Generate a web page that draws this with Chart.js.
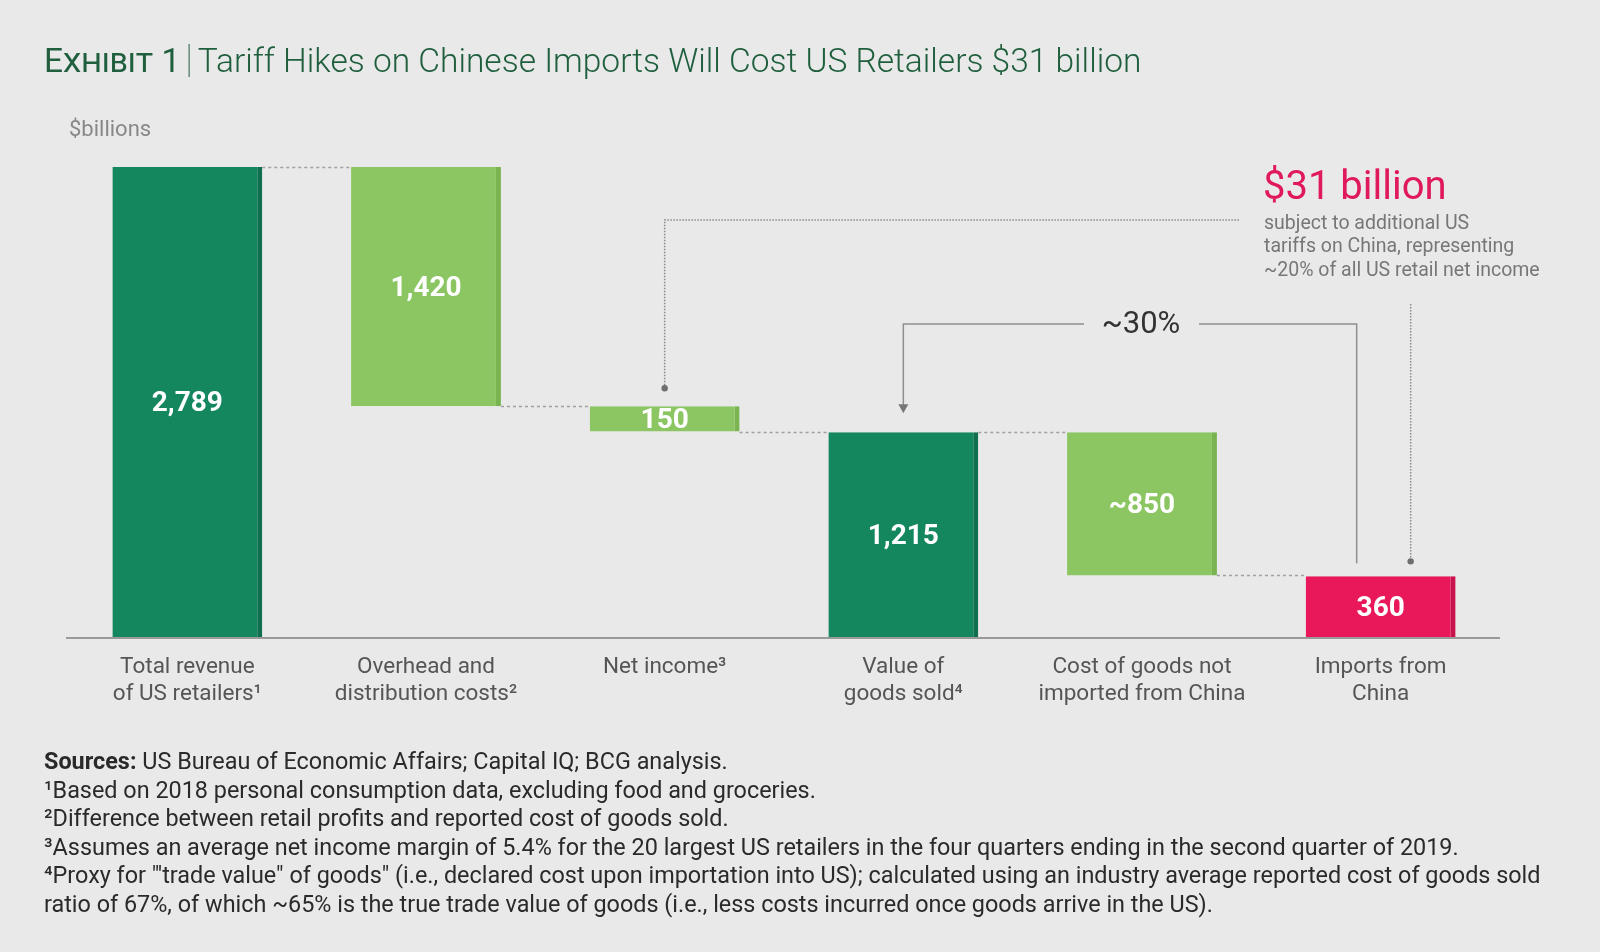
<!DOCTYPE html>
<html>
<head>
<meta charset="utf-8">
<script src="https://cdn.jsdelivr.net/npm/chart.js@4/dist/chart.umd.min.js"></script>
<style>
  html, body { margin: 0; padding: 0; background: #e9e9e9; }
  #wrap { position: relative; width: 1600px; height: 952px; font-family: Roboto, "Open Sans", sans-serif; }
  #chart { position: absolute; left: 0; top: 0; }
  #title { position: absolute; left: 44px; top: 38px; font-size: 33.5px; font-weight: 300; color: #1f5f3d; white-space: nowrap; line-height: 42px; }
  #title .ex { font-variant: small-caps; font-weight: 400; }
  #title .sep { font-weight: 100; margin: 0 5px; font-size: 38px; }
  #notes { position: absolute; left: 44px; top: 747px; font-size: 23.4px; line-height: 28.6px; color: #2a2a2a; white-space: nowrap; }
  #notes b { font-weight: 700; }
</style>
</head>
<body>
<div id="wrap">
  <canvas id="chart" width="1600" height="952"></canvas>
  <div id="title"><span class="ex">Exhibit 1</span><span class="sep">|</span>Tariff Hikes on Chinese Imports Will Cost US Retailers $31 billion</div>
  <div id="notes">
    <div><b>Sources:</b> US Bureau of Economic Affairs; Capital IQ; BCG analysis.</div>
    <div>¹Based on 2018 personal consumption data, excluding food and groceries.</div>
    <div>²Difference between retail profits and reported cost of goods sold.</div>
    <div>³Assumes an average net income margin of 5.4% for the 20 largest US retailers in the four quarters ending in the second quarter of 2019.</div>
    <div>⁴Proxy for "'trade value" of goods" (i.e., declared cost upon importation into US); calculated using an industry average reported cost of goods sold</div>
    <div>ratio of 67%, of which ~65% is the true trade value of goods (i.e., less costs incurred once goods arrive in the US).</div>
  </div>
</div>
<script>
// chart data
const categories = [
  ['Total revenue', 'of US retailers¹'],
  ['Overhead and', 'distribution costs²'],
  ['Net income³'],
  ['Value of', 'goods sold⁴'],
  ['Cost of goods not', 'imported from China'],
  ['Imports from', 'China']
];
const amounts = [2789, 1420, 150, 1215, 850, 360];
const barKinds = ['total', 'decrease', 'decrease', 'total', 'decrease', 'highlight'];
const valueLabels = ['2,789', '1,420', '150', '1,215', '~850', '360'];

const kindColors = {
  total: ['#14875f', '#0f6f4e'],
  decrease: ['#8bc662', '#79b451'],
  highlight: ['#e8185b', '#c8134d']
};

// build floating ranges for the waterfall
let level = 0;
const ranges = [];
const endLevels = [];
amounts.forEach((amt, i) => {
  if (barKinds[i] === 'decrease') {
    ranges.push([level - amt, level]);
    level = level - amt;
  } else {
    ranges.push([0, amt]);
    level = amt;
  }
  endLevels.push(level);
});

const dotted = (ctx) => { ctx.setLineDash([1.5, 1.5]); ctx.strokeStyle = '#8a8a8a'; ctx.lineWidth = 1.5; };
const dot = (ctx, x, y) => { ctx.beginPath(); ctx.setLineDash([]); ctx.fillStyle = '#6e6e6e'; ctx.arc(x, y, 3.2, 0, Math.PI * 2); ctx.fill(); };

const waterfallPlugin = {
  id: 'waterfall',
  beforeDatasetsDraw(chart) {
    const ctx = chart.ctx;
    const y = chart.scales.y;
    const bars = chart.getDatasetMeta(0).data;
    ctx.save();
    // connectors
    ctx.setLineDash([3, 3]);
    ctx.strokeStyle = '#a0a0a0';
    ctx.lineWidth = 1.5;
    for (let i = 0; i < bars.length - 1; i++) {
      const yy = Math.round(y.getPixelForValue(endLevels[i])) + 0.5;
      ctx.beginPath();
      ctx.moveTo(bars[i].x + bars[i].width / 2, yy);
      ctx.lineTo(bars[i + 1].x - bars[i + 1].width / 2, yy);
      ctx.stroke();
    }
    ctx.restore();
  },
  afterDatasetsDraw(chart) {
    const ctx = chart.ctx;
    const x = chart.scales.x, y = chart.scales.y;
    const area = chart.chartArea;
    const bars = chart.getDatasetMeta(0).data;
    ctx.save();

    // value labels
    ctx.fillStyle = '#ffffff';
    ctx.font = 'bold 28px Roboto, sans-serif';
    ctx.textAlign = 'center';
    ctx.textBaseline = 'middle';
    bars.forEach((b, i) => {
      ctx.fillText(valueLabels[i], b.x, (b.y + b.base) / 2 + 2);
    });

    // axis line
    ctx.strokeStyle = '#9a9a9a';
    ctx.lineWidth = 2;
    ctx.beginPath();
    ctx.moveTo(area.left - 2, area.bottom + 1);
    ctx.lineTo(area.right, area.bottom + 1);
    ctx.stroke();

    // category labels
    ctx.fillStyle = '#555555';
    ctx.font = '22.5px Roboto, sans-serif';
    categories.forEach((lines, i) => {
      const cx = x.getPixelForValue(i);
      lines.forEach((t, j) => ctx.fillText(t, cx, area.bottom + 30 + j * 27));
    });

    // $billions
    ctx.fillStyle = '#888888';
    ctx.font = '22px Roboto, sans-serif';
    ctx.textAlign = 'left';
    ctx.fillText('$billions', 69, 130);

    // $31 billion callout
    const x3 = x.getPixelForValue(2);
    const netTop = y.getPixelForValue(ranges[2][1]);
    dotted(ctx);
    ctx.beginPath();
    ctx.moveTo(x3, netTop - 18);
    ctx.lineTo(x3, 220);
    ctx.lineTo(1239, 220);
    ctx.stroke();
    dot(ctx, x3, netTop - 18);

    ctx.fillStyle = '#e0195c';
    ctx.font = '40px Roboto, sans-serif';
    ctx.fillText('$31 billion', 1263, 189);
    ctx.fillStyle = '#777777';
    ctx.font = '19.5px Roboto, sans-serif';
    ['subject to additional US', 'tariffs on China, representing', '~20% of all US retail net income']
      .forEach((t, j) => ctx.fillText(t, 1264, 224 + j * 23.5));

    const x6 = x.getPixelForValue(5);
    const impTop = y.getPixelForValue(ranges[5][1]);
    dotted(ctx);
    ctx.beginPath();
    ctx.moveTo(x6 + 30, 304);
    ctx.lineTo(x6 + 30, impTop - 15);
    ctx.stroke();
    dot(ctx, x6 + 30, impTop - 15);

    // ~30% bracket
    const x4 = x.getPixelForValue(3);
    const vgTop = y.getPixelForValue(ranges[3][1]);
    ctx.setLineDash([]);
    ctx.strokeStyle = '#8f8f8f';
    ctx.lineWidth = 1.5;
    ctx.beginPath();
    ctx.moveTo(x4, vgTop - 26);
    ctx.lineTo(x4, 324);
    ctx.lineTo(1084, 324);
    ctx.moveTo(1199, 324);
    ctx.lineTo(x6 - 24, 324);
    ctx.lineTo(x6 - 24, impTop - 13);
    ctx.stroke();
    ctx.fillStyle = '#777777';
    ctx.beginPath();
    ctx.moveTo(x4 - 5, vgTop - 28);
    ctx.lineTo(x4 + 5, vgTop - 28);
    ctx.lineTo(x4, vgTop - 19);
    ctx.closePath();
    ctx.fill();
    ctx.fillStyle = '#333333';
    ctx.font = '31px Roboto, sans-serif';
    ctx.textAlign = 'center';
    ctx.fillText('~30%', 1141, 325);

    ctx.restore();
  }
};

new Chart(document.getElementById('chart').getContext('2d'), {
  type: 'bar',
  data: {
    labels: categories,
    datasets: [{
      data: ranges,
      backgroundColor: barKinds.map(k => kindColors[k][0]),
      borderColor: barKinds.map(k => kindColors[k][1]),
      borderWidth: { top: 0, right: 5, bottom: 0, left: 0 },
      borderSkipped: false,
      barPercentage: 0.628,
      categoryPercentage: 1
    }]
  },
  options: {
    responsive: false,
    animation: false,
    layout: { padding: { left: 68, right: 100, top: 167, bottom: 315 } },
    plugins: { legend: { display: false }, tooltip: { enabled: false } },
    scales: {
      x: { display: false, grid: { display: false } },
      y: { display: false, min: 0, max: 2789, grid: { display: false } }
    }
  },
  plugins: [waterfallPlugin]
});
</script>
</body>
</html>
